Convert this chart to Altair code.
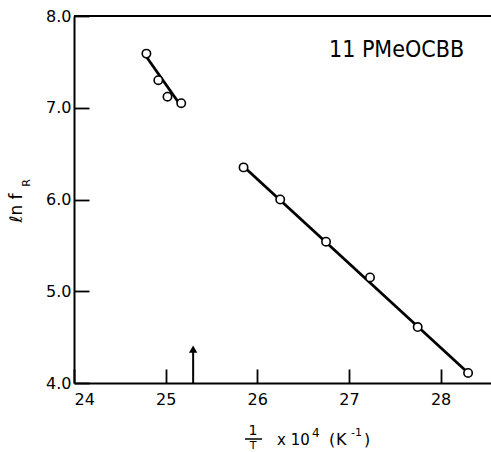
import altair as alt
import pandas as pd

# ---- data ----
g1_x = [24.79, 24.92, 25.02, 25.17]
g1_y = [7.59, 7.30, 7.12, 7.05]
g2_x = [25.85, 26.25, 26.75, 27.23, 27.75, 28.30]
g2_y = [6.35, 6.00, 5.54, 5.15, 4.61, 4.11]
fit1_x = [24.78, 25.16]
fit1_y = [7.57, 7.03]
fit2_x = [25.85, 28.29]
fit2_y = [6.36, 4.12]
arrow_x = [25.3]
arrow_y0 = [4.0]
arrow_y1 = [4.37]
x_ticks = [24, 25, 26, 27, 28]
y_ticks = [4.0, 5.0, 6.0, 7.0, 8.0]
label_text = "11 PMeOCBB"

W, H = 417, 367
FONT = "DejaVu Sans"
X_DOM = [24, 28.55]
Y_DOM = [4, 8]
XT_LEN = 14   # inward tick length on x axis (px)
YT_LEN = 15   # inward tick length on y axis (px)

xs = alt.Scale(domain=X_DOM, nice=False, zero=False)
ys = alt.Scale(domain=Y_DOM, nice=False, zero=False)

pts = pd.DataFrame({"x": g1_x + g2_x, "y": g1_y + g2_y})
f1 = pd.DataFrame({"x": fit1_x, "y": fit1_y})
f2 = pd.DataFrame({"x": fit2_x, "y": fit2_y})
arr = pd.DataFrame({"x": arrow_x, "y0": arrow_y0, "y1": arrow_y1})
one = pd.DataFrame({"k": [0]})

# inward ticks drawn as short dashed grid segments starting at each axis line
base_x = alt.X("x:Q", scale=xs,
               axis=alt.Axis(values=x_ticks, format="d", title=None, ticks=False,
                             grid=True, gridColor="black", gridOpacity=1,
                             gridWidth=1.8, gridDash=[0, H - XT_LEN, XT_LEN, 10000],
                             domainWidth=2, domainColor="black",
                             labelFont=FONT, labelFontSize=16, labelColor="black",
                             labelPadding=8))
base_y = alt.Y("y:Q", scale=ys,
               axis=alt.Axis(values=y_ticks, format=".1f", title=None, ticks=False,
                             grid=True, gridColor="black", gridOpacity=1,
                             gridWidth=1.8, gridDash=[YT_LEN, 10000],
                             domainWidth=2, domainColor="black",
                             labelFont=FONT, labelFontSize=16, labelColor="black",
                             labelPadding=3))

line1 = alt.Chart(f1).mark_line(color="black", strokeWidth=2.8).encode(x=base_x, y=base_y)
line2 = alt.Chart(f2).mark_line(color="black", strokeWidth=2.8).encode(x="x:Q", y="y:Q")
points = alt.Chart(pts).mark_point(shape="circle", size=70, filled=True, fill="white",
                                   stroke="black", strokeWidth=1.6, opacity=1).encode(
    x="x:Q", y="y:Q")

arrow_shaft = alt.Chart(arr).mark_rule(color="black", strokeWidth=2).encode(
    x="x:Q", y="y0:Q", y2="y1:Q")
arrow_head = alt.Chart(arr).mark_point(shape="triangle-up", size=70, filled=True,
                                       color="black", opacity=1).encode(
    x="x:Q", y="y1:Q")

top_line = alt.Chart(one).mark_rule(color="black", strokeWidth=2).encode(
    x=alt.value(0), x2=alt.value(W + 2), y=alt.value(0))


def txt(s, x, y, size, align="left", angle=0, baseline="alphabetic", font=FONT):
    return alt.Chart(pd.DataFrame({"t": [s]})).mark_text(
        font=font, fontSize=size, color="black", align=align, baseline=baseline,
        angle=angle).encode(text="t:N", x=alt.value(x), y=alt.value(y))


title_lbl = txt(label_text, 255, 41, 23, font="DejaVu Sans Condensed")

ylab1 = txt("ℓn f", -57, 192, 17, align="center", angle=270, baseline="middle")
ylab2 = txt("R", -47, 167, 11, align="center", angle=270, baseline="middle")

frac_bar = alt.Chart(one).mark_rule(color="black", strokeWidth=1.5).encode(
    x=alt.value(171), x2=alt.value(188), y=alt.value(423))
xl = [
    txt("1", 179, 419, 14, align="center"),
    txt("T", 179, 433, 11, align="center"),
    txt("x 10", 203, 429, 15),
    txt("4", 238, 421, 12),
    txt("(", 255, 429, 16),
    txt("K", 262, 429, 16),
    txt("-1", 277, 420, 11),
    txt(")", 290, 429, 16),
]

chart = alt.layer(
    line1, line2, points, arrow_shaft, arrow_head, top_line,
    title_lbl, ylab1, ylab2, frac_bar, *xl
).properties(
    width=W, height=H,
    padding={"left": 74, "top": 16, "right": 0, "bottom": 69},
    autosize=alt.AutoSizeParams(type="none"),
).configure_view(strokeOpacity=0)

chart.save("out.html", embed_options={"renderer": "svg", "actions": False})
